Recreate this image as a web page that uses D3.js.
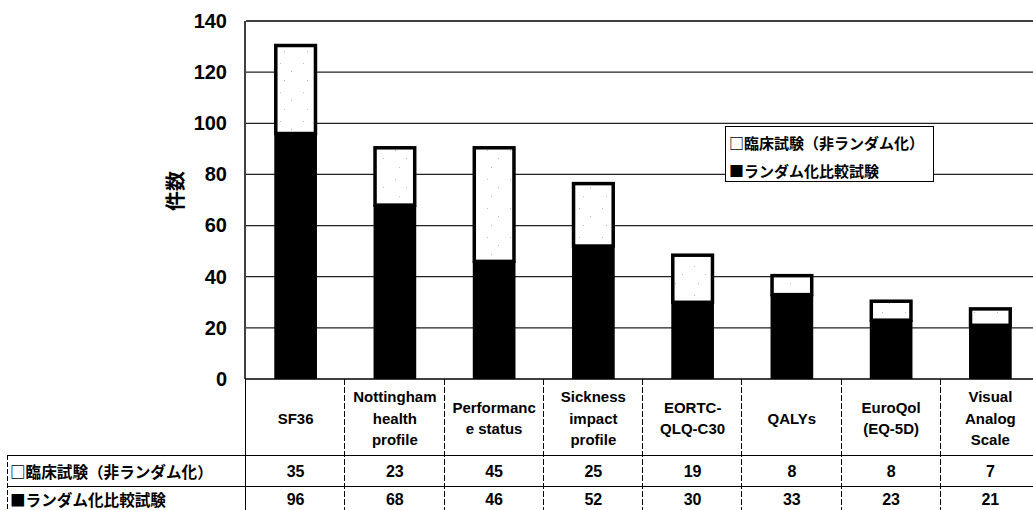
<!DOCTYPE html>
<html>
<head>
<meta charset="utf-8">
<script src="https://cdn.jsdelivr.net/npm/d3@7/dist/d3.min.js"></script>
<style>
  html, body { margin: 0; padding: 0; background: #fff; }
  svg { display: block; }
  text { font-family: "Liberation Sans", "Noto Sans CJK JP", sans-serif; font-weight: bold; fill: #000; }
  .jp { font-family: "Noto Sans CJK JP", "Liberation Sans", sans-serif; }
</style>
</head>
<body>
<svg id="chart" width="1033" height="510"></svg>
<script>
// Outcome measures (multi-line labels split on "\n")
const categories = [
  "SF36",
  "Nottingham\nhealth\nprofile",
  "Performanc\ne status",
  "Sickness\nimpact\nprofile",
  "EORTC-\nQLQ-C30",
  "QALYs",
  "EuroQol\n(EQ-5D)",
  "Visual\nAnalog\nScale"
];
// Counts per study type
const nonRandomized = [35, 23, 45, 25, 19, 8, 8, 7];
const randomized = [96, 68, 46, 52, 30, 33, 23, 21];
const seriesNames = ["□臨床試験（非ランダム化）", "■ランダム化比較試験"];
const yTicks = [0, 20, 40, 60, 80, 100, 120, 140];
const yLabel = "件数";

const svg = d3.select("#chart");

const plotLeft = 246, plotRight = 1040, plotTop = 21, plotBottom = 379;
const headerBottom = 455, row1Bottom = 486, tableBottom = 510, tableLeft = 7;

const x = d3.scaleBand().domain(d3.range(categories.length)).range([plotLeft, plotRight]).padding(0);
const y = d3.scaleLinear().domain([0, 140]).range([plotBottom, plotTop]);
const barW = x.bandwidth() * 0.43;

// faint speckle fill for the open segments
const defs = svg.append("defs");
const pat = defs.append("pattern").attr("id", "speckle").attr("patternUnits", "userSpaceOnUse")
  .attr("width", 23).attr("height", 29);
pat.append("rect").attr("width", 23).attr("height", 29).attr("fill", "#fff");
[[4, 5], [15, 13], [8, 22]].forEach(([cx, cy]) =>
  pat.append("rect").attr("x", cx).attr("y", cy).attr("width", 1).attr("height", 1).attr("fill", "#bbb"));

// horizontal gridlines
svg.append("g").selectAll("line").data(yTicks.filter(d => d > 0 && d < 140)).join("line")
  .attr("x1", plotLeft).attr("x2", plotRight)
  .attr("y1", d => y(d)).attr("y2", d => y(d))
  .attr("stroke", "#222").attr("stroke-width", 1.2);

// plot frame
svg.append("line").attr("x1", plotLeft).attr("x2", plotRight).attr("y1", plotTop).attr("y2", plotTop)
  .attr("stroke", "#000").attr("stroke-width", 1.5);
svg.append("line").attr("x1", plotLeft - 1).attr("x2", plotLeft - 1).attr("y1", plotTop).attr("y2", plotBottom)
  .attr("stroke", "#000").attr("stroke-width", 1.5);

// y-axis tick labels
const yAxis = d3.axisLeft(y).tickValues(yTicks).tickSize(0).tickPadding(18);
const gy = svg.append("g").attr("transform", `translate(${plotLeft - 1},0)`).call(yAxis);
gy.select(".domain").remove();
gy.selectAll("text").attr("font-size", 20).attr("font-family", "Liberation Sans, sans-serif")
  .attr("font-weight", "bold").attr("fill", "#000");

// y-axis title
svg.append("text").attr("class", "jp")
  .attr("transform", "translate(174,191) rotate(-90)")
  .attr("text-anchor", "middle").attr("dominant-baseline", "central")
  .attr("font-size", 20).text(yLabel);

// bars: randomized (solid) below, non-randomized (open) on top
const bars = svg.append("g");
categories.forEach((c, i) => {
  const cx = x(i) + x.bandwidth() / 2;
  const r = randomized[i], n = nonRandomized[i];
  bars.append("rect")
    .attr("x", cx - barW / 2).attr("width", barW)
    .attr("y", y(r)).attr("height", y(0) - y(r))
    .attr("fill", "#000");
  bars.append("rect")
    .attr("x", cx - barW / 2 + 1.5).attr("width", barW - 3)
    .attr("y", y(r + n) + 1.5).attr("height", y(r) - y(r + n) - 1.5)
    .attr("fill", "url(#speckle)").attr("stroke", "#000").attr("stroke-width", 3.5);
});

// base line
svg.append("line").attr("x1", plotLeft - 1).attr("x2", plotRight).attr("y1", plotBottom).attr("y2", plotBottom)
  .attr("stroke", "#000").attr("stroke-width", 1.5);

// legend
const lg = svg.append("g");
lg.append("rect").attr("x", 725.5).attr("y", 126.5).attr("width", 208).attr("height", 55)
  .attr("fill", "#fff").attr("stroke", "#000").attr("stroke-width", 1);
seriesNames.forEach((s, i) => {
  lg.append("text").attr("class", "jp").attr("x", 729).attr("y", 142 + i * 28)
    .attr("dominant-baseline", "central").attr("font-size", 15).text(s);
});

// data table
const tbl = svg.append("g");
const hLine = (yy, x1) => tbl.append("line").attr("x1", x1).attr("x2", 1033)
  .attr("y1", yy).attr("y2", yy).attr("stroke", "#000").attr("stroke-width", 1);
hLine(headerBottom + 0.5, tableLeft);
hLine(row1Bottom + 0.5, tableLeft);
tbl.append("line").attr("x1", tableLeft + 0.5).attr("x2", tableLeft + 0.5)
  .attr("y1", headerBottom).attr("y2", tableBottom)
  .attr("stroke", "#000").attr("stroke-width", 1).attr("stroke-dasharray", "5,2");
d3.range(categories.length + 1).forEach(i => {
  const xx = Math.round(plotLeft + i * x.bandwidth()) - 0.5;
  tbl.append("line").attr("x1", xx).attr("x2", xx).attr("y1", plotBottom).attr("y2", tableBottom)
    .attr("stroke", "#000").attr("stroke-width", 1).attr("stroke-dasharray", i === 0 ? null : "6,2");
});

// category headers
categories.forEach((c, i) => {
  const lines = c.split("\n");
  const cx = x(i) + x.bandwidth() / 2;
  const lh = 21.5;
  const t = tbl.append("text").attr("text-anchor", "middle").attr("font-size", 15);
  lines.forEach((ln, k) => {
    t.append("tspan").attr("x", cx)
      .attr("y", 418 + (k - (lines.length - 1) / 2) * lh)
      .attr("dominant-baseline", "central").text(ln);
  });
});

// row labels
seriesNames.forEach((s, r) => {
  tbl.append("text").attr("class", "jp").attr("x", 10)
    .attr("y", r === 0 ? 471 : 499).attr("dominant-baseline", "central")
    .attr("font-size", 15.6).text(s);
});

// row values
[nonRandomized, randomized].forEach((vals, r) => {
  tbl.selectAll(null).data(vals).join("text")
    .attr("x", (d, i) => x(i) + x.bandwidth() / 2)
    .attr("y", r === 0 ? 471 : 499)
    .attr("text-anchor", "middle").attr("dominant-baseline", "central")
    .attr("font-size", 16).text(d => d);
});
</script>
</body>
</html>
